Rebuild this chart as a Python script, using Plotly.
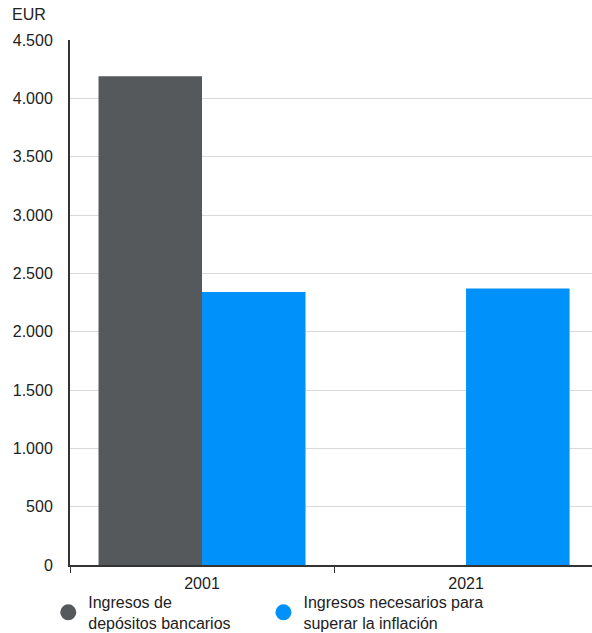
import plotly.graph_objects as go

# Income in EUR for each year
years = ["2001", "2021"]
bank_deposits = [4190, None]
needed_vs_inflation = [2340, 2370]

series_names = ["Ingresos de<br>depósitos bancarios", "Ingresos necesarios para<br>superar la inflación"]
series_colors = ["#55595C", "#0091FA"]

y_ticks = [0, 500, 1000, 1500, 2000, 2500, 3000, 3500, 4000, 4500]
y_tick_labels = ["0", "500", "1.000", "1.500", "2.000", "2.500", "3.000", "3.500", "4.000", "4.500"]

FONT = "Liberation Sans, Arial, sans-serif"
TEXT = "#222222"
WIDTH, HEIGHT = 592, 633
# plot area edges in pixels from the top-left corner of the page
PLOT_LEFT, PLOT_RIGHT, PLOT_TOP, PLOT_BOTTOM = 70, 592, 40, 565
LEGEND_TOP = 585

legend_ids = ["legend", "legend2"]
legend_x = [0.0815, 0.445]

fig = go.Figure()
for vals, name, color, lg in zip([bank_deposits, needed_vs_inflation], series_names,
                                 series_colors, legend_ids):
    fig.add_trace(go.Bar(x=years, y=vals, name=name, marker_color=color,
                         marker_line_width=0, showlegend=False))
    # round legend swatch for the series
    fig.add_trace(go.Scatter(x=[None], y=[None], mode="markers", name=name, legend=lg,
                             marker=dict(symbol="circle", size=18, color=color)))

legend_common = dict(orientation="h", xref="paper", yref="paper",
                     xanchor="left", y=1 - LEGEND_TOP / HEIGHT, yanchor="top",
                     font=dict(family=FONT, size=16, color=TEXT),
                     itemwidth=30, valign="middle", bgcolor="rgba(0,0,0,0)")

x_domain = [PLOT_LEFT / WIDTH, PLOT_RIGHT / WIDTH]
y_domain = [1 - PLOT_BOTTOM / HEIGHT, 1 - PLOT_TOP / HEIGHT]

fig.update_layout(
    width=WIDTH, height=HEIGHT,
    margin=dict(l=0, r=0, t=0, b=0, autoexpand=False),
    plot_bgcolor="white", paper_bgcolor="white",
    barmode="group", bargap=0.216, bargroupgap=0,
    font=dict(family=FONT, size=16, color=TEXT),
    showlegend=True,
    legend=dict(x=legend_x[0], **legend_common),
    legend2=dict(x=legend_x[1], **legend_common),
    annotations=[dict(text="EUR", xref="paper", yref="paper", x=10 / WIDTH,
                      y=y_domain[1], xanchor="left", yanchor="bottom", yshift=15,
                      showarrow=False, font=dict(family=FONT, size=16, color=TEXT))],
)

fig.update_xaxes(type="category", range=[-0.5, 1.477], domain=x_domain,
                 showline=True, linecolor="#333333", linewidth=1.5,
                 ticks="outside", tickson="boundaries", ticklen=6, tickcolor="#333333",
                 showgrid=False, ticklabelstandoff=3, tickfont=dict(size=16),
                 tickangle=0, automargin=False)
fig.update_yaxes(range=[0, 4500], tickvals=y_ticks, ticktext=y_tick_labels,
                 domain=y_domain, automargin=False,
                 showline=True, linecolor="#333333", linewidth=2,
                 showgrid=True, gridcolor="#D9D9D9", gridwidth=1,
                 zeroline=False, ticks="", ticklabelstandoff=12,
                 tickfont=dict(size=16))

fig.write_html("out.html")
